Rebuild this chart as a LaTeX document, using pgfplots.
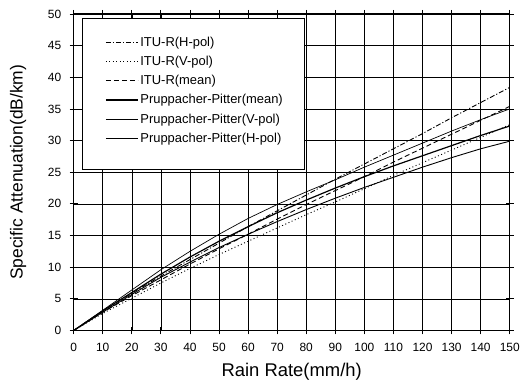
\documentclass[border=0pt]{standalone}
\usepackage{pgfplots}
\pgfplotsset{compat=1.18}
\usepackage{fontspec}
\setmainfont{Liberation Sans}
\begin{document}
\begin{tikzpicture}
\begin{axis}[
 scale only axis, width=438pt, height=318pt,
 xmin=0, xmax=150, ymin=0, ymax=50,
 xtick={0,10,...,150}, ytick={0,5,...,50},
 grid=major, grid style={black, line width=0.6pt},
 axis line style={line width=1pt},
 tick align=center, major tick length=8pt,
 tick style={black, line width=0.8pt},
 /pgf/number format/assume math mode=true,
 ticklabel style={font=\fontsize{12}{14}\selectfont},
 xticklabel style={yshift=-5pt},
 yticklabel style={xshift=-5pt},
 xlabel={Rain Rate(mm/h)}, ylabel={Specific Attenuation(dB/km)},
 xlabel style={font=\fontsize{18.5}{20}\selectfont, yshift=-5pt},
 ylabel style={font=\fontsize{17.5}{19}\selectfont, yshift=15pt},
 legend cell align=left,
 legend style={at={(axis cs:9.8,47.0)}, anchor=north west, draw=none, fill=none,
   font=\fontsize{13}{15}\selectfont, row sep=4.3pt},
 legend image code/.code={\draw[#1] (0pt,0pt) -- (32pt,0pt);},
]
\fill[white] (axis cs:3.1,25.5) rectangle (axis cs:79.5,49.3);
\draw[black, line width=0.9pt] (axis cs:3.1,25.5) rectangle (axis cs:79.5,49.3);
\addplot[black, line width=0.9pt, dash pattern=on 5pt off 2pt on 1.2pt off 2pt] coordinates {
(0,0) (10,3.1) (20,5.9) (30,8.6) (40,11.2) (50,13.8) (60,16.4) (70,18.9) (80,21.4) (90,23.9) (100,26.3) (110,28.7) (120,31.1) (130,33.6) (140,36.0) (150,38.4)};
\addlegendentry{ITU-R(H-pol)}
\addplot[black, line width=0.9pt, dash pattern=on 1pt off 2.5pt] coordinates {
(0,0) (10,2.7) (20,5.1) (30,7.5) (40,9.8) (50,12.0) (60,14.1) (70,16.2) (80,18.3) (90,20.3) (100,22.4) (110,24.5) (120,26.5) (130,28.5) (140,30.5) (150,32.5)};
\addlegendentry{ITU-R(V-pol)}
\addplot[black, line width=0.9pt, dash pattern=on 5pt off 3pt] coordinates {
(0,0) (10,2.9) (20,5.5) (30,8.0) (40,10.5) (50,12.9) (60,15.2) (70,17.6) (80,19.9) (90,22.1) (100,24.3) (110,26.6) (120,28.8) (130,31.0) (140,33.2) (150,35.4)};
\addlegendentry{ITU-R(mean)}
\addplot[black, line width=1.2pt] coordinates {
(0,0) (10,3.1) (20,6.0) (30,8.9) (40,11.6) (50,14.1) (60,16.4) (70,18.6) (80,20.6) (90,22.5) (100,24.3) (110,26.0) (120,27.6) (130,29.2) (140,30.8) (150,32.3)};
\addlegendentry{Pruppacher-Pitter(mean)}
\addplot[black, line width=0.9pt] coordinates {
(0,0) (10,2.9) (20,5.7) (30,8.4) (40,10.8) (50,13.1) (60,15.2) (70,17.2) (80,19.1) (90,20.9) (100,22.6) (110,24.2) (120,25.8) (130,27.3) (140,28.7) (150,29.9)};
\addlegendentry{Pruppacher-Pitter(V-pol)}
\addplot[black, line width=0.7pt] coordinates {
(0,0) (10,3.2) (20,6.4) (30,9.6) (40,12.5) (50,15.2) (60,17.7) (70,19.9) (80,21.9) (90,23.8) (100,25.8) (110,27.7) (120,29.6) (130,31.5) (140,33.3) (150,35.0)};
\addlegendentry{Pruppacher-Pitter(H-pol)}
\end{axis}
\path ([shift={(-74pt,-59pt)}]current axis.south west) rectangle ([shift={(11pt,14pt)}]current axis.north east);
\end{tikzpicture}
\end{document}
